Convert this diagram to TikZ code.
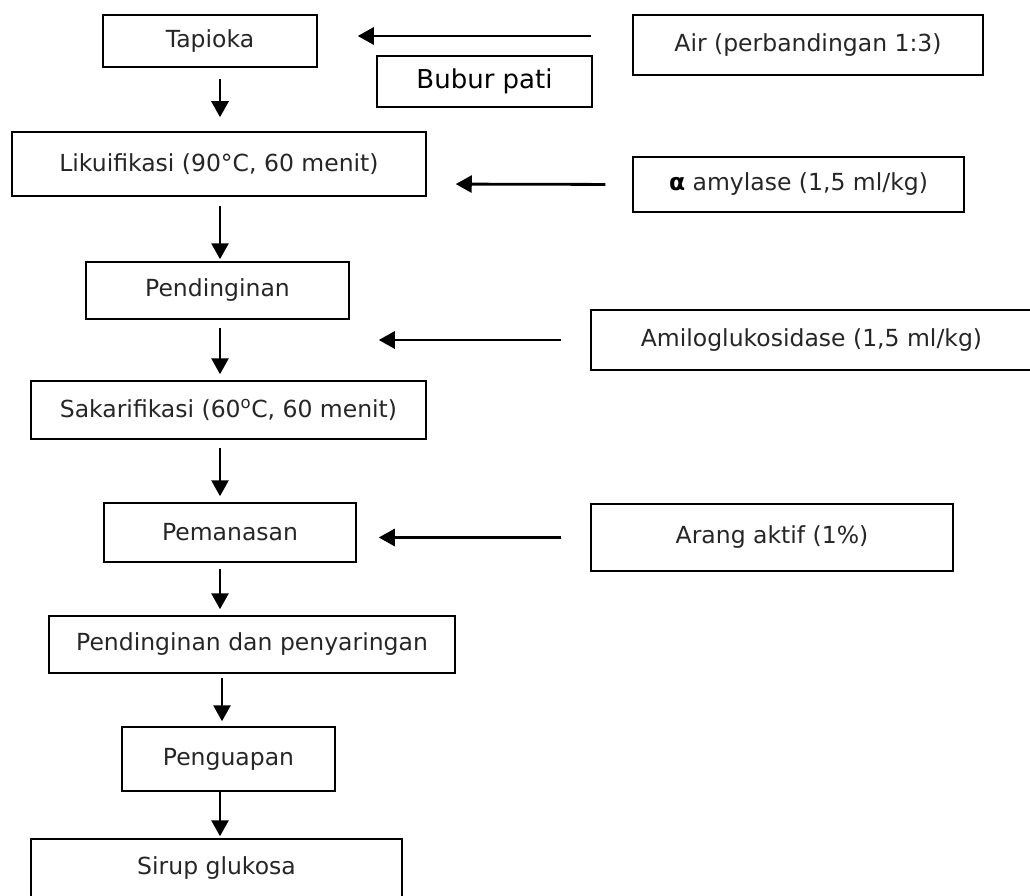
\documentclass[tikz,border=0pt]{standalone}
\usepackage{fontspec}
\setmainfont{DejaVu Sans}
\usetikzlibrary{arrows.meta}

\begin{document}
\begin{tikzpicture}[x=1pt,y=-1pt]
\tikzset{box/.style={draw,line width=1.5pt,inner sep=0pt,text=black!85,font=\fontsize{23.5}{28}\selectfont},
  flow/.style={line width=2.8pt,-{Triangle[length=16pt,width=17pt]}}}

\useasboundingbox (0,0) rectangle (1030,896);
\coordinate (axis) at (220,0);

\path (210,41) node[box,minimum width=214,minimum height=52] (tap) {Tapioka};
\path (484.5,81.5) node[box,minimum width=215,minimum height=51,text=black,font=\fontsize{26}{30}\selectfont] (bubur) {Bubur pati};
\path (808,45) node[box,minimum width=350,minimum height=60] (air) {Air (perbandingan 1:3)};
\path (219,164) node[box,minimum width=414,minimum height=64] (likui) {Likuifikasi (90°C, 60 menit)};
\path (798.5,184.5) node[box,minimum width=331,minimum height=55] (amyl) {{\bfseries\color{black}α} amylase (1,5 ml/kg)};
\path (217.5,290.5) node[box,minimum width=263,minimum height=57] (dingin) {Pendinginan};
\path (811.5,340) node[box,minimum width=441,minimum height=60] (amilo) {Amiloglukosidase (1,5 ml/kg)};
\path (228.5,410) node[box,minimum width=395,minimum height=58] (sakar) {Sakarifikasi (60\textsuperscript{o}C, 60 menit)};
\path (230,532.5) node[box,minimum width=252,minimum height=59] (panas) {Pemanasan};
\path (772,537.5) node[box,minimum width=362,minimum height=67] (arang) {Arang aktif (1\%)};
\path (252,644.5) node[box,minimum width=406,minimum height=57] (saring) {Pendinginan dan penyaringan};
\path (228.5,759) node[box,minimum width=213,minimum height=64] (uap) {Penguapan};
\path (216.5,868) node[box,minimum width=371,minimum height=58] (sirup) {Sirup glukosa};

% main line
\draw[flow,shorten <=11pt,shorten >=14pt] (tap.south -| axis) -- (likui.north -| axis);
\draw[flow,shorten <=9pt,shorten >=2pt] (likui.south -| axis) -- (dingin.north -| axis);
\draw[flow,shorten <=8pt,shorten >=6pt] (dingin.south -| axis) -- (sakar.north -| axis);
\draw[flow,shorten <=8pt,shorten >=6pt] (sakar.south -| axis) -- (panas.north -| axis);
\draw[flow,shorten <=6pt,shorten >=6pt] (panas.south -| axis) -- (saring.north -| axis);
\draw[flow,shorten <=4pt,shorten >=5pt] ([xshift=2pt]saring.south -| axis) -- ([xshift=2pt]uap.north -| axis);
\draw[flow,shorten >=2pt] (uap.south -| axis) -- (sirup.north -| axis);

% inputs
\draw[flow,shorten <=41pt,shorten >=40pt] ([yshift=9pt]air.west) -- ([yshift=5pt]tap.east);
\draw[flow,shorten <=27pt,shorten >=29pt] (amyl.west) -- ([yshift=-20pt]likui.east);
\draw[flow,shorten <=29pt,shorten >=29pt] (amilo.west) -- (amilo.west -| dingin.east);
\draw[flow,shorten <=29pt,shorten >=22pt] (arang.west) -- (arang.west -| panas.east);
\end{tikzpicture}
\end{document}
